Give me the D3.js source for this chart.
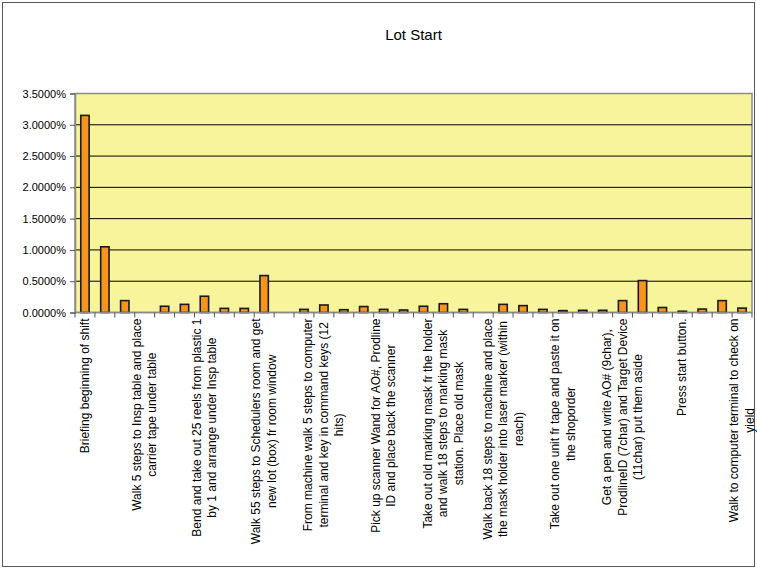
<!DOCTYPE html>
<html>
<head>
<meta charset="utf-8">
<script src="https://cdn.jsdelivr.net/npm/d3@7"></script>
<style>
  body { margin: 0; background: #fff; }
  text { font-family: "Liberation Sans", Arial, sans-serif; fill: #000; }
</style>
</head>
<body>
<script>
// share of lot-start time per step (percent)
let values = [3.15, 1.05, 0.19, 0, 0.10, 0.13, 0.26, 0.066, 0.065, 0.59,
    0, 0.05, 0.12, 0.045, 0.095, 0.05, 0.04, 0.10, 0.14, 0.05,
    0, 0.13, 0.11, 0.05, 0.03, 0.035, 0.035, 0.19, 0.51, 0.08,
    0.02, 0.055, 0.19, 0.07];

// only every third step gets a label on the axis (as wrapped in the original)
let labelIndex = [0, 3, 6, 9, 12, 15, 18, 21, 24, 27, 30, 33];
let labels = [
    ["Briefing beginning of shift"],
    ["Walk 5 steps to Insp table and place", "carrier tape under table"],
    ["Bend and take out 25 reels from plastic 1", "by 1 and arrange under Insp table"],
    ["Walk 55 steps to Schedulers room and get", "new lot (box) fr room window"],
    ["From machine walk 5 steps to computer", "terminal  and key in command keys (12", "hits)"],
    ["Pick up scanner Wand for AO#, Prodline", "ID and place back the scanner"],
    ["Take out old marking mask fr the holder", "and walk 18 steps to marking mask", "station. Place old mask"],
    ["Walk back 18 steps to machine and place", "the mask holder into laser marker (within", "reach)"],
    ["Take out one unit fr tape and paste it on", "the shoporder"],
    ["Get a pen and write AO# (9char),", "ProdlineID (7char) and Target Device", "(11char) put them aside"],
    ["Press start button."],
    ["Walk to computer terminal to check on", "yield"]
];
let yTicks = [0, 0.5, 1.0, 1.5, 2.0, 2.5, 3.0, 3.5];

let width = 757, height = 570;
let plot = {left: 75, right: 752, top: 93.5, bottom: 312.5};

let svg = d3.select("body").append("svg")
    .attr("width", width)
    .attr("height", height);

// chart area border
svg.append("rect")
    .attr("x", 2.5).attr("y", 2.5)
    .attr("width", 752).attr("height", 564)
    .attr("fill", "#fff")
    .attr("stroke", "#555")
    .attr("stroke-width", 1);

svg.append("text")
    .attr("x", (plot.left + plot.right) / 2)
    .attr("y", 40)
    .attr("text-anchor", "middle")
    .style("font-size", "15px")
    .text("Lot Start");

let x = d3.scaleBand()
    .domain(d3.range(values.length))
    .range([plot.left, plot.right])
    .paddingInner(0.58)
    .paddingOuter(0.29);

let y = d3.scaleLinear()
    .domain([0, 3.5])
    .range([plot.bottom, plot.top]);

svg.append("rect")
    .attr("x", plot.left).attr("y", plot.top)
    .attr("width", plot.right - plot.left)
    .attr("height", plot.bottom - plot.top)
    .attr("fill", "#f8f49c")
    .attr("stroke", "#8a8a8a")
    .attr("stroke-width", 1.5);

// gridlines
svg.append("g")
    .selectAll("line")
    .data(yTicks.filter(d => d > 0 && d < 3.5))
    .enter().append("line")
    .attr("x1", plot.left).attr("x2", plot.right)
    .attr("y1", d => y(d)).attr("y2", d => y(d))
    .attr("stroke", "#000")
    .attr("stroke-width", 1);

// y axis
let yAxis = svg.append("g")
    .attr("transform", "translate(" + plot.left + ",0)")
    .call(d3.axisLeft(y).tickValues(yTicks).tickSize(5).tickPadding(4)
        .tickFormat(d => d3.format(".4f")(d) + "%"));
yAxis.select(".domain").attr("stroke", "#8a8a8a").attr("stroke-width", 1.5);
yAxis.selectAll(".tick line").attr("stroke", "#555");
yAxis.selectAll("text").style("font-size", "11px").attr("fill", "#000");

// bars
svg.append("g")
    .selectAll("rect")
    .data(values)
    .enter().append("rect")
    .attr("x", (d, i) => x(i))
    .attr("y", d => y(d))
    .attr("width", x.bandwidth())
    .attr("height", d => plot.bottom - y(d))
    .attr("fill", "#f7941d")
    .attr("stroke", "#1a1a1a")
    .attr("stroke-width", 1.6)
    .style("display", d => d > 0 ? null : "none");

// x axis line and ticks between categories
svg.append("line")
    .attr("x1", plot.left).attr("x2", plot.right)
    .attr("y1", plot.bottom).attr("y2", plot.bottom)
    .attr("stroke", "#8a8a8a")
    .attr("stroke-width", 1.5);

svg.append("g")
    .selectAll("line")
    .data(d3.range(values.length + 1))
    .enter().append("line")
    .attr("x1", i => plot.left + i * x.step())
    .attr("x2", i => plot.left + i * x.step())
    .attr("y1", plot.bottom).attr("y2", plot.bottom + 5)
    .attr("stroke", "#555");

// rotated, wrapped category labels
let lineGap = 15.5;
labelIndex.forEach(function (idx, k) {
    let lines = labels[k];
    let cx = x(idx) + x.bandwidth() / 2;
    let g = svg.append("g")
        .attr("transform", "translate(" + cx + "," + (plot.bottom + 6) + ") rotate(-90)");
    let texts = g.selectAll("text")
        .data(lines)
        .enter().append("text")
        .attr("text-anchor", "middle")
        .attr("dominant-baseline", "central")
        .style("font-size", "12px")
        .attr("y", (d, i) => (i - (lines.length - 1) / 2) * lineGap)
        .text(d => d);
    let maxLen = d3.max(texts.nodes(), n => n.getComputedTextLength());
    texts.attr("x", -maxLen / 2);
});
</script>
</body>
</html>
